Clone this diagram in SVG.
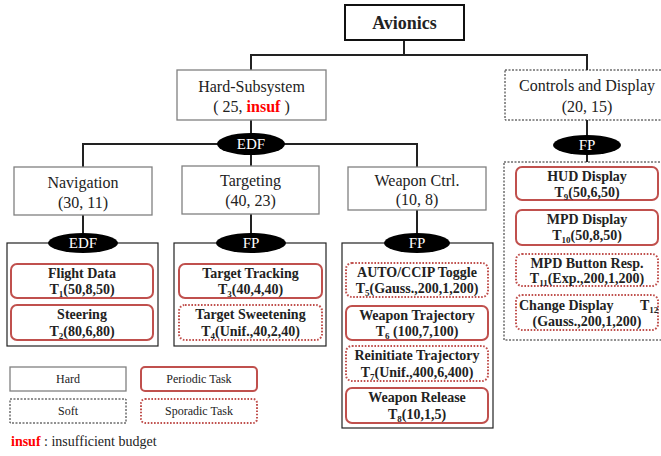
<svg xmlns="http://www.w3.org/2000/svg" width="661" height="456" viewBox="0 0 661 456" font-family="'Liberation Serif','Times New Roman',Times,serif">
<style>
svg,text,tspan{font-family:"Liberation Serif","Times New Roman",Times,serif}
text{fill:#222}
.n{font-size:16px;text-anchor:middle}
.t{font-size:14px;font-weight:bold;text-anchor:middle}
.ts{font-size:14px;font-weight:bold;text-anchor:start}
.s{font-size:9px}
.l{font-size:12px;text-anchor:middle}
.hard{fill:#fff;stroke:#808080;stroke-width:1.3}
.soft{fill:#fff;stroke:#222;stroke-width:1;stroke-dasharray:2 1.5}
.cont{fill:#fff;stroke:#222;stroke-width:1.2}
.per{fill:#fff;stroke:#c0504d;stroke-width:2}
.spo{fill:#fff;stroke:#c0504d;stroke-width:2;stroke-dasharray:1.6 1.6}
.e{fill:#000}
.et{fill:#fff;font-size:15px;text-anchor:middle}
.red{fill:#f00;font-weight:bold}
#edges line{stroke:#222;stroke-width:2}
</style>
<g id="edges">
<line x1="404" y1="40" x2="404" y2="55"/>
<line x1="250" y1="55" x2="588" y2="55"/>
<line x1="251" y1="55" x2="251" y2="70"/>
<line x1="587" y1="55" x2="587" y2="70"/>
<line x1="251" y1="120" x2="251" y2="166"/>
<line x1="82" y1="144" x2="418" y2="144"/>
<line x1="83" y1="144" x2="83" y2="167"/>
<line x1="417" y1="144" x2="417" y2="167"/>
<line x1="83" y1="215" x2="83" y2="234"/>
<line x1="251" y1="214" x2="251" y2="234"/>
<line x1="417" y1="210" x2="417" y2="234"/>
<line x1="587" y1="120" x2="587" y2="162"/>
</g>
<g id="avionics">
<rect x="345" y="5" width="119" height="35" fill="#fff" stroke="#111" stroke-width="2"/>
<text x="404.5" y="29" font-size="18" font-weight="bold" text-anchor="middle">Avionics</text>
</g>
<g id="hard-subsystem">
<rect class="hard" x="177" y="70" width="149" height="50"/>
<text class="n" x="251.5" y="92">Hard-Subsystem</text>
<text class="n" x="251.5" y="112">( 25, <tspan class="red">insuf</tspan> )</text>
</g>
<g id="controls-display">
<rect class="soft" x="505" y="70" width="170" height="50"/>
<text class="n" x="587" y="91">Controls and Display</text>
<text class="n" x="587" y="112">(20, 15)</text>
</g>
<g id="edf-main">
<ellipse class="e" cx="251" cy="144" rx="34" ry="11"/>
<text class="et" x="251" y="149">EDF</text>
</g>
<g id="navigation">
<rect class="hard" x="14" y="167" width="138" height="48"/>
<text class="n" x="83" y="188">Navigation</text>
<text class="n" x="83" y="208">(30, 11)</text>
</g>
<g id="targeting">
<rect class="hard" x="182" y="166" width="137" height="48"/>
<text class="n" x="250.5" y="186">Targeting</text>
<text class="n" x="250.5" y="206">(40, 23)</text>
</g>
<g id="weapon-ctrl">
<rect class="hard" x="348" y="167" width="138" height="43"/>
<text class="n" x="417" y="186">Weapon Ctrl.</text>
<text class="n" x="417" y="205">(10, 8)</text>
</g>
<g id="nav-tasks">
<rect class="cont" x="7" y="243" width="151" height="103"/>
<ellipse class="e" cx="83" cy="243" rx="35" ry="10"/>
<text class="et" x="83" y="248">EDF</text>
<rect class="per" x="11" y="264" width="142" height="34" rx="6"/>
<text class="t" x="82" y="278">Flight Data</text>
<text class="t" x="82" y="294">T<tspan class="s" dy="3">1</tspan><tspan dy="-3">(50,8,50)</tspan></text>
<rect class="per" x="11" y="305" width="142" height="35" rx="6"/>
<text class="t" x="82" y="319">Steering</text>
<text class="t" x="82" y="336">T<tspan class="s" dy="3">2</tspan><tspan dy="-3">(80,6,80)</tspan></text>
</g>
<g id="targeting-tasks">
<rect class="cont" x="174" y="243" width="152" height="103"/>
<ellipse class="e" cx="251" cy="243" rx="35" ry="10"/>
<text class="et" x="251" y="248">FP</text>
<rect class="per" x="179" y="264" width="143" height="34" rx="6"/>
<text class="t" x="250.5" y="278">Target Tracking</text>
<text class="t" x="250.5" y="294">T<tspan class="s" dy="3">3</tspan><tspan dy="-3">(40,4,40)</tspan></text>
<rect class="spo" x="179" y="305" width="143" height="35" rx="6"/>
<text class="t" x="250.5" y="319">Target Sweetening</text>
<text class="t" x="250.5" y="336">T<tspan class="s" dy="3">4</tspan><tspan dy="-3">(Unif.,40,2,40)</tspan></text>
</g>
<g id="weapon-tasks">
<rect class="cont" x="342" y="243" width="151" height="185"/>
<ellipse class="e" cx="417" cy="243" rx="33" ry="10"/>
<text class="et" x="417" y="248">FP</text>
<rect class="spo" x="346" y="263" width="142" height="34" rx="6"/>
<text class="t" x="417" y="277">AUTO/CCIP Toggle</text>
<text class="t" x="417" y="293">T<tspan class="s" dy="3">5</tspan><tspan dy="-3">(Gauss.,200,1,200)</tspan></text>
<rect class="per" x="346" y="306" width="142" height="34" rx="6"/>
<text class="t" x="417" y="320">Weapon Trajectory</text>
<text class="t" x="417" y="336">T<tspan class="s" dy="3">6</tspan><tspan dy="-3"> (100,7,100)</tspan></text>
<rect class="spo" x="346" y="346" width="142" height="35" rx="6"/>
<text class="t" x="417" y="360">Reinitiate Trajectory</text>
<text class="t" x="417" y="377">T<tspan class="s" dy="3">7</tspan><tspan dy="-3">(Unif.,400,6,400)</tspan></text>
<rect class="per" x="346" y="388" width="142" height="35" rx="6"/>
<text class="t" x="417" y="402">Weapon Release</text>
<text class="t" x="417" y="419">T<tspan class="s" dy="3">8</tspan><tspan dy="-3">(10,1,5)</tspan></text>
</g>
<g id="controls-tasks">
<rect class="soft" x="504" y="162" width="170" height="178"/>
<ellipse class="e" cx="587" cy="145" rx="34" ry="10"/>
<text class="et" x="587" y="150">FP</text>
<rect class="per" x="516" y="167" width="142" height="33" rx="6"/>
<text class="t" x="587" y="181">HUD Display</text>
<text class="t" x="587" y="197">T<tspan class="s" dy="3">9</tspan><tspan dy="-3">(50,6,50)</tspan></text>
<rect class="per" x="516" y="210" width="142" height="35" rx="6"/>
<text class="t" x="587" y="224">MPD Display</text>
<text class="t" x="587" y="240">T<tspan class="s" dy="3">10</tspan><tspan dy="-3">(50,8,50)</tspan></text>
<rect class="spo" x="516" y="254" width="142" height="32" rx="6"/>
<text class="t" x="587" y="268">MPD Button Resp.</text>
<text class="t" x="587" y="283">T<tspan class="s" dy="3">11</tspan><tspan dy="-3">(Exp.,200,1,200)</tspan></text>
<rect class="spo" x="516" y="295" width="142" height="35" rx="6"/>
<text class="ts" x="519" y="310">Change Display</text>
<text class="ts" x="640" y="310">T<tspan class="s" dy="3">12</tspan></text>
<text class="t" x="587" y="326">(Gauss.,200,1,200)</text>
</g>
<g id="legend">
<rect class="hard" x="10" y="367" width="116" height="24"/>
<text class="l" x="68" y="383">Hard</text>
<rect class="per" x="141" y="367" width="116" height="24" rx="4"/>
<text class="l" x="199" y="383">Periodic Task</text>
<rect class="soft" x="10" y="399" width="116" height="24"/>
<text class="l" x="68" y="415">Soft</text>
<rect class="spo" x="141" y="399" width="116" height="24" rx="4"/>
<text class="l" x="199" y="415">Sporadic Task</text>
<text x="11" y="446" font-size="14"><tspan class="red">insuf</tspan> : insufficient budget</text>
</g>
</svg>
